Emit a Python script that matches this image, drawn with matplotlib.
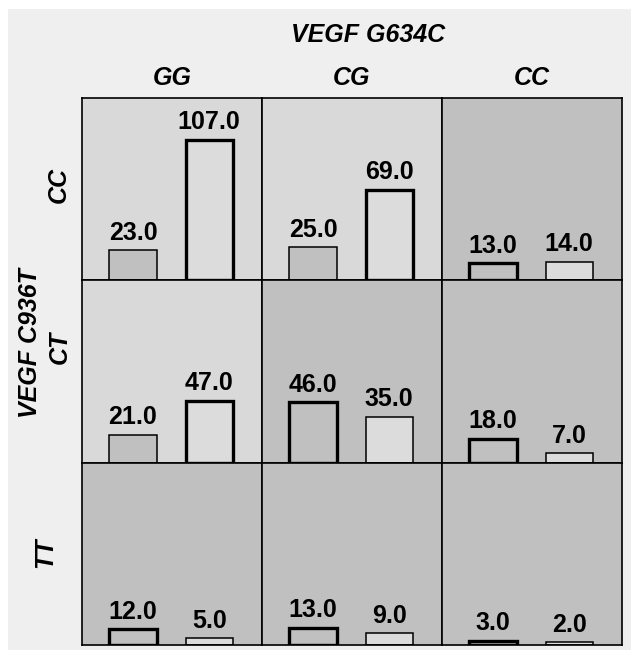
import matplotlib.pyplot as plt
from matplotlib.patches import Rectangle

# Genotype groups
col_labels = ["GG", "CG", "CC"]          # VEGF G634C
row_labels = ["CC", "CT", "TT"]          # VEGF C936T

# Two bars per cell: (left, right)
left_vals = [[23.0, 25.0, 13.0],
             [21.0, 46.0, 18.0],
             [12.0, 13.0, 3.0]]
right_vals = [[107.0, 69.0, 14.0],
              [47.0, 35.0, 7.0],
              [5.0, 9.0, 2.0]]

# Cell shading: "light" or "dark"
cell_shade = [["light", "light", "dark"],
              ["light", "dark", "dark"],
              ["dark", "dark", "dark"]]

shade_colors = {"light": "#d9d9d9", "dark": "#c0c0c0"}
left_color = "#c0c0c0"
right_color = "#dcdcdc"

plt.rcParams["font.family"] = ["Liberation Sans", "DejaVu Sans"]

W, H = 631, 657
fig = plt.figure(figsize=(W / 100, H / 100), dpi=100)
fig.patch.set_facecolor("white")

# light gray backdrop
fig.patches.append(Rectangle((8 / W, 1 - 650 / H), (W - 8) / W, (650 - 9) / H,
                             transform=fig.transFigure, facecolor="#efefef",
                             edgecolor="none", zorder=-10))

gx0, gx1 = 82, 622
gy0, gy1 = 98, 645
cw = (gx1 - gx0) / 3
ch = (gy1 - gy0) / 3

for r in range(3):
    for c in range(3):
        x = gx0 + c * cw
        y = gy0 + r * ch
        ax = fig.add_axes([x / W, 1 - (y + ch) / H, cw / W, ch / H])
        shade = cell_shade[r][c]
        ax.set_facecolor(shade_colors[shade])
        vals = [left_vals[r][c], right_vals[r][c]]
        fills = [left_color, right_color]
        for i, v in enumerate(vals):
            # the bar that blends with its cell gets the heavy outline
            heavy = (shade == "dark" and i == 0) or (shade == "light" and i == 1)
            lw = 2.4 if heavy else 1.1
            ax.bar(i, v, width=0.62, color=fills[i], edgecolor="black",
                   linewidth=lw, zorder=2)
            ax.annotate(f"{v:.1f}", (i, v), xytext=(0, 4),
                        textcoords="offset points", ha="center", va="bottom",
                        fontsize=18, fontweight="bold")
        ax.set_xlim(-0.668, 1.692)
        ax.set_ylim(0, 138.6)
        ax.set_xticks([])
        ax.set_yticks([])
        for s in ax.spines.values():
            s.set_linewidth(1.2)
            s.set_color("black")

# column header
fig.text(368 / W, 1 - 42 / H, "VEGF G634C", ha="center", va="baseline",
         fontsize=18, fontweight="bold", fontstyle="italic")
for c, lab in enumerate(col_labels):
    fig.text((gx0 + (c + 0.5) * cw) / W, 1 - 85 / H, lab, ha="center",
             va="baseline", fontsize=18, fontweight="bold", fontstyle="italic")

# row header
fig.text(30 / W, 1 - 343 / H, "VEGF C936T", ha="center", va="center",
         rotation=90, fontsize=18, fontweight="bold", fontstyle="italic")
row_pos = [(59, 185), (60, 347), (45, 553)]
for (px, py), lab in zip(row_pos, row_labels):
    fig.text(px / W, 1 - py / H, lab, ha="center", va="center", rotation=90,
             fontsize=18, fontweight="bold", fontstyle="italic")

plt.savefig("out.png", dpi=100)
